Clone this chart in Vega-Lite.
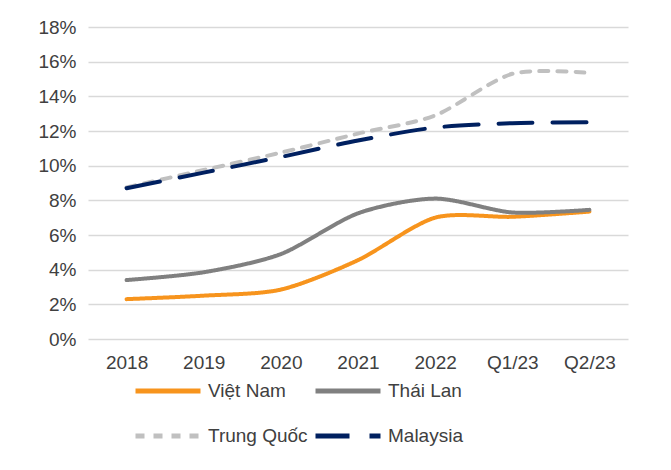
{
  "$schema": "https://vega.github.io/schema/vega-lite/v6.json",
  "width": 540,
  "height": 312,
  "autosize": {"type": "none"},
  "padding": {"left": 88, "top": 27, "right": 43, "bottom": 131},
  "background": "white",
  "config": {
    "view": {"stroke": null},
    "font": "Liberation Sans",
    "axis": {"labelFont": "Liberation Sans", "labelColor": "#404040", "labelFontSize": 19}
  },
  "data": {
    "values": [
      {"period": "2018", "country": "Việt Nam", "value": 2.3},
      {"period": "2019", "country": "Việt Nam", "value": 2.5},
      {"period": "2020", "country": "Việt Nam", "value": 2.85},
      {"period": "2021", "country": "Việt Nam", "value": 4.55},
      {"period": "2022", "country": "Việt Nam", "value": 7.0},
      {"period": "Q1/23", "country": "Việt Nam", "value": 7.05},
      {"period": "Q2/23", "country": "Việt Nam", "value": 7.35},
      {"period": "2018", "country": "Thái Lan", "value": 3.4},
      {"period": "2019", "country": "Thái Lan", "value": 3.85},
      {"period": "2020", "country": "Thái Lan", "value": 4.9},
      {"period": "2021", "country": "Thái Lan", "value": 7.25},
      {"period": "2022", "country": "Thái Lan", "value": 8.1},
      {"period": "Q1/23", "country": "Thái Lan", "value": 7.3},
      {"period": "Q2/23", "country": "Thái Lan", "value": 7.45},
      {"period": "2018", "country": "Trung Quốc", "value": 8.75},
      {"period": "2019", "country": "Trung Quốc", "value": 9.75},
      {"period": "2020", "country": "Trung Quốc", "value": 10.75},
      {"period": "2021", "country": "Trung Quốc", "value": 11.85},
      {"period": "2022", "country": "Trung Quốc", "value": 12.9},
      {"period": "Q1/23", "country": "Trung Quốc", "value": 15.3},
      {"period": "Q2/23", "country": "Trung Quốc", "value": 15.35},
      {"period": "2018", "country": "Malaysia", "value": 8.7},
      {"period": "2019", "country": "Malaysia", "value": 9.6},
      {"period": "2020", "country": "Malaysia", "value": 10.5},
      {"period": "2021", "country": "Malaysia", "value": 11.45},
      {"period": "2022", "country": "Malaysia", "value": 12.2},
      {"period": "Q1/23", "country": "Malaysia", "value": 12.45},
      {"period": "Q2/23", "country": "Malaysia", "value": 12.5}
    ]
  },
  "mark": {"type": "line", "interpolate": "cardinal", "tension": 0.2, "strokeWidth": 4, "strokeCap": "round"},
  "encoding": {
    "x": {
      "field": "period", "type": "ordinal", "sort": null,
      "scale": {"type": "point", "padding": 0.5},
      "axis": {"title": null, "domain": false, "ticks": false, "labelAngle": 0, "labelPadding": 14, "grid": false}
    },
    "y": {
      "field": "value", "type": "quantitative",
      "scale": {"domain": [0, 18], "nice": false},
      "axis": {
        "title": null, "domain": false, "ticks": false, "values": [0, 2, 4, 6, 8, 10, 12, 14, 16, 18],
        "labelExpr": "datum.value + '%'", "labelPadding": 12,
        "gridColor": "#D9D9D9", "gridWidth": 1.5
      }
    },
    "color": {
      "field": "country", "type": "nominal",
      "scale": {
        "domain": ["Việt Nam", "Trung Quốc", "Thái Lan", "Malaysia"],
        "range": ["#F7941D", "#C0C0C0", "#808080", "#002060"]
      },
      "legend": {
        "title": null, "orient": "none", "legendX": 45, "legendY": 329,
        "columns": 2, "padding": 0, "rowPadding": -26, "columnPadding": -3,
        "symbolType": "stroke", "symbolSize": 4225, "symbolStrokeWidth": 5,
        "labelFontSize": 19, "labelColor": "#404040", "labelFont": "Liberation Sans", "labelOffset": 5
      }
    },
    "strokeDash": {
      "field": "country", "type": "nominal",
      "scale": {
        "domain": ["Việt Nam", "Trung Quốc", "Thái Lan", "Malaysia"],
        "range": [[1, 0], [9, 9], [1, 0], [34, 20]]
      },
      "legend": null
    }
  }
}
